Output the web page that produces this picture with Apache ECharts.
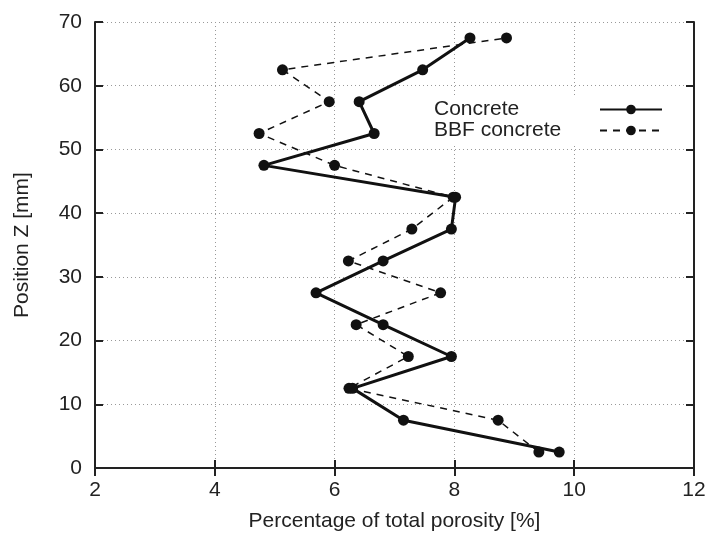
<!DOCTYPE html>
<html>
<head>
<meta charset="utf-8">
<script src="https://cdn.jsdelivr.net/npm/echarts@6/dist/echarts.min.js"></script>
<style>
  html, body { margin: 0; padding: 0; background: #fff; }
  #main { width: 712px; height: 534px; }
</style>
</head>
<body>
<div id="main"></div>
<script>
// position of each measured slice (mm)
const positions = [2.5, 7.5, 12.5, 17.5, 22.5, 27.5, 32.5, 37.5, 42.5, 47.5, 52.5, 57.5, 62.5, 67.5]
// porosity share (%) for each slice
const concrete = [9.75, 7.15, 6.3, 7.95, 6.81, 5.69, 6.81, 7.95, 8.02, 4.82, 6.66, 6.41, 7.47, 8.26]
const bbfConcrete = [9.41, 8.73, 6.24, 7.23, 6.36, 7.77, 6.23, 7.29, 7.98, 6.0, 4.74, 5.91, 5.13, 8.87]

const xTicks = [2, 4, 6, 8, 10, 12]
const yTicks = [0, 10, 20, 30, 40, 50, 60, 70]

const font = 'Liberation Sans, Arial, sans-serif'

function toPoints(values) {
  return values.map((v, i) => [v, positions[i]])
}

const chart = echarts.init(document.getElementById('main'))

// gnuplot style axes: ticks inside, mirrored on top / right
const baseX = {
  type: 'value',
  min: xTicks[0],
  max: xTicks[xTicks.length - 1],
  interval: 2,
  axisLine: { show: true, lineStyle: { color: '#222', width: 2 } },
  axisTick: { show: true, inside: true, length: 8, lineStyle: { color: '#222', width: 2 } }
}
const baseY = {
  type: 'value',
  min: yTicks[0],
  max: yTicks[yTicks.length - 1],
  interval: 10,
  axisLine: { show: true, lineStyle: { color: '#222', width: 2 } },
  axisTick: { show: true, inside: true, length: 8, lineStyle: { color: '#222', width: 2 } }
}

chart.setOption({
  animation: false,
  backgroundColor: '#fff',
  grid: { left: 95, right: 18, top: 22, bottom: 66, containLabel: false, outerBoundsMode: 'none' },
  legend: {
    orient: 'vertical',
    left: 428,
    top: 97,
    align: 'right',
    itemGap: 0,
    itemWidth: 62,
    itemHeight: 12,
    backgroundColor: '#fff',
    padding: [2, 30, 2, 6],
    formatter: name => '{t|' + name + '}',
    textStyle: {
      fontFamily: font,
      fontSize: 21,
      color: '#222',
      rich: { t: { width: 161, align: 'left', fontFamily: font, fontSize: 21, color: '#222', lineHeight: 22 } }
    },
    data: ['Concrete', 'BBF concrete']
  },
  xAxis: [
    Object.assign({}, baseX, {
      position: 'bottom',
      name: 'Percentage of total porosity [%]',
      nameLocation: 'middle',
      nameGap: 43,
      nameTextStyle: { fontFamily: font, fontSize: 21, color: '#222' },
      axisLabel: { fontFamily: font, fontSize: 21, color: '#222', margin: 12 },
      splitLine: { show: true, lineStyle: { color: '#999', type: [1, 3], width: 1 } }
    }),
    Object.assign({}, baseX, {
      position: 'top',
      axisLabel: { show: false },
      splitLine: { show: false }
    })
  ],
  yAxis: [
    Object.assign({}, baseY, {
      position: 'left',
      name: 'Position Z [mm]',
      nameLocation: 'middle',
      nameGap: 62,
      nameTextStyle: { fontFamily: font, fontSize: 21, color: '#222' },
      axisLabel: { fontFamily: font, fontSize: 21, color: '#222', margin: 13 },
      splitLine: { show: true, lineStyle: { color: '#999', type: [1, 3], width: 1 } }
    }),
    Object.assign({}, baseY, {
      position: 'right',
      axisLabel: { show: false },
      splitLine: { show: false }
    })
  ],
  series: [
    {
      name: 'Concrete',
      type: 'line',
      data: toPoints(concrete),
      symbol: 'circle',
      symbolSize: 11,
      itemStyle: { color: '#111' },
      lineStyle: { color: '#111', width: 3 },
      z: 3
    },
    {
      name: 'BBF concrete',
      type: 'line',
      data: toPoints(bbfConcrete),
      symbol: 'circle',
      symbolSize: 11,
      itemStyle: { color: '#111' },
      lineStyle: { color: '#111', width: 1.5, type: [7, 6] },
      z: 2
    }
  ]
})
</script>
</body>
</html>
